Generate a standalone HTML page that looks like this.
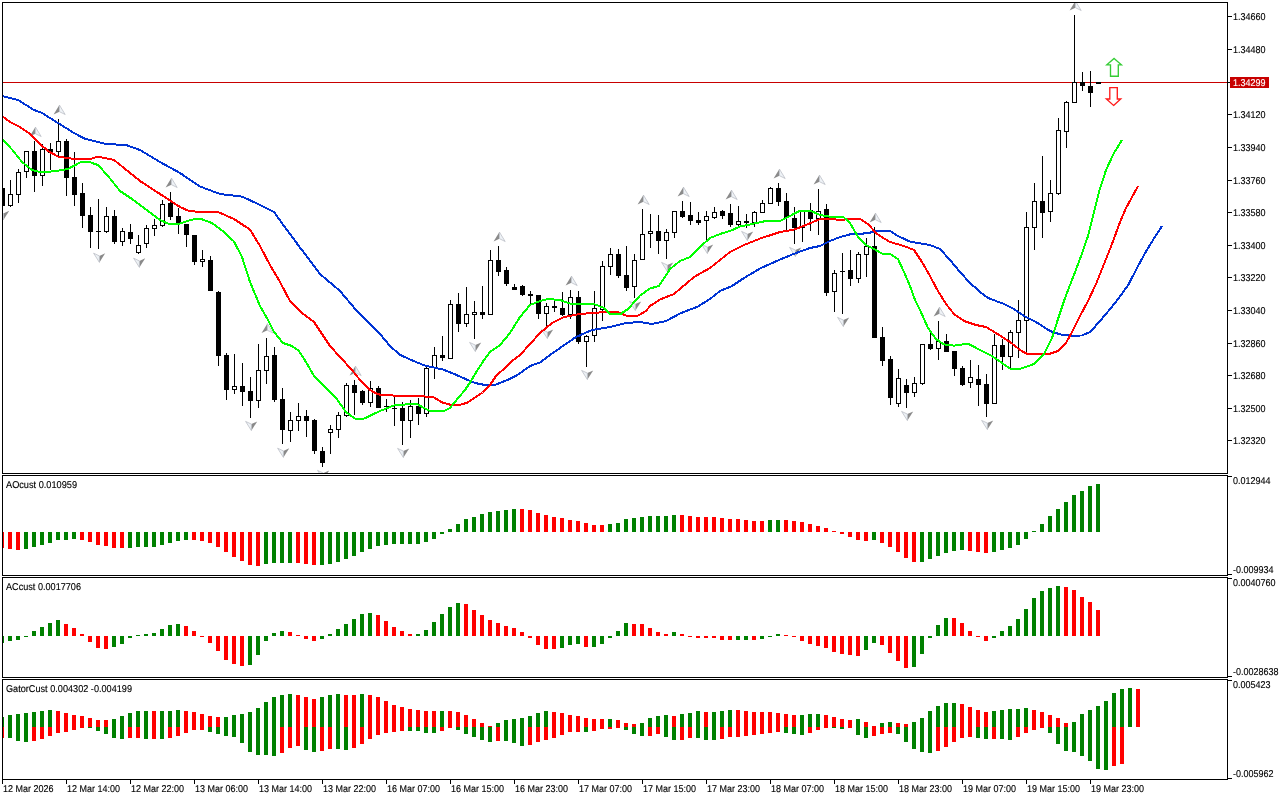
<!DOCTYPE html>
<html lang="en"><head><meta charset="utf-8"><title>Chart</title>
<style>html,body{margin:0;padding:0;background:#fff;overflow:hidden}svg{display:block}text{font-family:"Liberation Sans",sans-serif;font-size:9px;fill:#000;stroke:#000;stroke-width:0.12px;text-rendering:geometricPrecision}</style>
</head><body>
<svg width="1280" height="800" viewBox="0 0 1280 800">
<rect width="1280" height="800" fill="#fff"/>
<defs><clipPath id="cm"><rect x="3" y="3" width="1224" height="470"/></clipPath><clipPath id="c1"><rect x="3" y="476" width="1224" height="99"/></clipPath><clipPath id="c2"><rect x="3" y="578" width="1224" height="99"/></clipPath><clipPath id="c3"><rect x="3" y="680" width="1224" height="99"/></clipPath></defs>
<g clip-path="url(#cm)" shape-rendering="crispEdges">
<rect x="3" y="82" width="1224" height="1" fill="#c80000"/>
<rect x="2" y="185" width="1" height="22" fill="#000"/>
<rect x="0" y="188" width="5" height="18" fill="#000"/>
<rect x="10" y="180" width="1" height="27" fill="#000"/>
<rect x="8" y="194" width="5" height="12" fill="#000"/>
<rect x="9" y="195" width="3" height="10" fill="#fff"/>
<rect x="18" y="169" width="1" height="34" fill="#000"/>
<rect x="16" y="172" width="5" height="23" fill="#000"/>
<rect x="17" y="173" width="3" height="21" fill="#fff"/>
<rect x="26" y="151" width="1" height="27" fill="#000"/>
<rect x="24" y="151" width="5" height="21" fill="#000"/>
<rect x="25" y="152" width="3" height="19" fill="#fff"/>
<rect x="34" y="141" width="1" height="51" fill="#000"/>
<rect x="32" y="151" width="5" height="25" fill="#000"/>
<rect x="42" y="144" width="1" height="42" fill="#000"/>
<rect x="40" y="149" width="5" height="27" fill="#000"/>
<rect x="41" y="150" width="3" height="25" fill="#fff"/>
<rect x="50" y="143" width="1" height="27" fill="#000"/>
<rect x="48" y="149" width="5" height="4" fill="#000"/>
<rect x="58" y="119" width="1" height="37" fill="#000"/>
<rect x="56" y="141" width="5" height="11" fill="#000"/>
<rect x="57" y="142" width="3" height="9" fill="#fff"/>
<rect x="66" y="139" width="1" height="57" fill="#000"/>
<rect x="64" y="141" width="5" height="37" fill="#000"/>
<rect x="74" y="152" width="1" height="54" fill="#000"/>
<rect x="72" y="177" width="5" height="18" fill="#000"/>
<rect x="82" y="183" width="1" height="45" fill="#000"/>
<rect x="80" y="193" width="5" height="23" fill="#000"/>
<rect x="90" y="207" width="1" height="41" fill="#000"/>
<rect x="88" y="215" width="5" height="17" fill="#000"/>
<rect x="98" y="199" width="1" height="50" fill="#000"/>
<rect x="96" y="231" width="5" height="1" fill="#000"/>
<rect x="106" y="207" width="1" height="26" fill="#000"/>
<rect x="104" y="216" width="5" height="16" fill="#000"/>
<rect x="105" y="217" width="3" height="14" fill="#fff"/>
<rect x="114" y="210" width="1" height="34" fill="#000"/>
<rect x="112" y="216" width="5" height="26" fill="#000"/>
<rect x="122" y="228" width="1" height="18" fill="#000"/>
<rect x="120" y="231" width="5" height="11" fill="#000"/>
<rect x="121" y="232" width="3" height="9" fill="#fff"/>
<rect x="130" y="224" width="1" height="20" fill="#000"/>
<rect x="128" y="232" width="5" height="7" fill="#000"/>
<rect x="138" y="235" width="1" height="19" fill="#000"/>
<rect x="136" y="245" width="5" height="8" fill="#000"/>
<rect x="137" y="246" width="3" height="6" fill="#fff"/>
<rect x="146" y="225" width="1" height="23" fill="#000"/>
<rect x="144" y="228" width="5" height="16" fill="#000"/>
<rect x="145" y="229" width="3" height="14" fill="#fff"/>
<rect x="154" y="219" width="1" height="17" fill="#000"/>
<rect x="152" y="225" width="5" height="4" fill="#000"/>
<rect x="153" y="226" width="3" height="2" fill="#fff"/>
<rect x="162" y="200" width="1" height="27" fill="#000"/>
<rect x="160" y="204" width="5" height="22" fill="#000"/>
<rect x="161" y="205" width="3" height="20" fill="#fff"/>
<rect x="170" y="192" width="1" height="28" fill="#000"/>
<rect x="168" y="203" width="5" height="14" fill="#000"/>
<rect x="178" y="208" width="1" height="26" fill="#000"/>
<rect x="176" y="216" width="5" height="8" fill="#000"/>
<rect x="186" y="224" width="1" height="23" fill="#000"/>
<rect x="184" y="224" width="5" height="11" fill="#000"/>
<rect x="194" y="235" width="1" height="30" fill="#000"/>
<rect x="192" y="235" width="5" height="27" fill="#000"/>
<rect x="202" y="250" width="1" height="17" fill="#000"/>
<rect x="200" y="259" width="5" height="3" fill="#000"/>
<rect x="201" y="260" width="3" height="1" fill="#fff"/>
<rect x="210" y="256" width="1" height="35" fill="#000"/>
<rect x="208" y="260" width="5" height="31" fill="#000"/>
<rect x="218" y="291" width="1" height="75" fill="#000"/>
<rect x="216" y="292" width="5" height="64" fill="#000"/>
<rect x="226" y="353" width="1" height="47" fill="#000"/>
<rect x="224" y="355" width="5" height="35" fill="#000"/>
<rect x="234" y="354" width="1" height="40" fill="#000"/>
<rect x="232" y="386" width="5" height="4" fill="#000"/>
<rect x="233" y="387" width="3" height="2" fill="#fff"/>
<rect x="242" y="363" width="1" height="43" fill="#000"/>
<rect x="240" y="386" width="5" height="6" fill="#000"/>
<rect x="250" y="377" width="1" height="41" fill="#000"/>
<rect x="248" y="391" width="5" height="10" fill="#000"/>
<rect x="258" y="344" width="1" height="64" fill="#000"/>
<rect x="256" y="370" width="5" height="31" fill="#000"/>
<rect x="257" y="371" width="3" height="29" fill="#fff"/>
<rect x="266" y="338" width="1" height="46" fill="#000"/>
<rect x="264" y="356" width="5" height="15" fill="#000"/>
<rect x="265" y="357" width="3" height="13" fill="#fff"/>
<rect x="274" y="347" width="1" height="55" fill="#000"/>
<rect x="272" y="355" width="5" height="45" fill="#000"/>
<rect x="282" y="388" width="1" height="56" fill="#000"/>
<rect x="280" y="399" width="5" height="31" fill="#000"/>
<rect x="290" y="412" width="1" height="30" fill="#000"/>
<rect x="288" y="420" width="5" height="11" fill="#000"/>
<rect x="289" y="421" width="3" height="9" fill="#fff"/>
<rect x="298" y="403" width="1" height="28" fill="#000"/>
<rect x="296" y="416" width="5" height="5" fill="#000"/>
<rect x="297" y="417" width="3" height="3" fill="#fff"/>
<rect x="306" y="410" width="1" height="27" fill="#000"/>
<rect x="304" y="416" width="5" height="5" fill="#000"/>
<rect x="314" y="419" width="1" height="35" fill="#000"/>
<rect x="312" y="420" width="5" height="31" fill="#000"/>
<rect x="322" y="447" width="1" height="20" fill="#000"/>
<rect x="320" y="451" width="5" height="12" fill="#000"/>
<rect x="330" y="425" width="1" height="29" fill="#000"/>
<rect x="328" y="429" width="5" height="4" fill="#000"/>
<rect x="329" y="430" width="3" height="2" fill="#fff"/>
<rect x="338" y="412" width="1" height="26" fill="#000"/>
<rect x="336" y="415" width="5" height="15" fill="#000"/>
<rect x="337" y="416" width="3" height="13" fill="#fff"/>
<rect x="346" y="383" width="1" height="34" fill="#000"/>
<rect x="344" y="385" width="5" height="31" fill="#000"/>
<rect x="345" y="386" width="3" height="29" fill="#fff"/>
<rect x="354" y="380" width="1" height="35" fill="#000"/>
<rect x="352" y="385" width="5" height="8" fill="#000"/>
<rect x="362" y="390" width="1" height="15" fill="#000"/>
<rect x="360" y="391" width="5" height="12" fill="#000"/>
<rect x="370" y="381" width="1" height="26" fill="#000"/>
<rect x="368" y="388" width="5" height="15" fill="#000"/>
<rect x="369" y="389" width="3" height="13" fill="#fff"/>
<rect x="378" y="386" width="1" height="22" fill="#000"/>
<rect x="376" y="388" width="5" height="20" fill="#000"/>
<rect x="386" y="399" width="1" height="13" fill="#000"/>
<rect x="384" y="406" width="5" height="1" fill="#000"/>
<rect x="394" y="397" width="1" height="29" fill="#000"/>
<rect x="392" y="408" width="5" height="1" fill="#000"/>
<rect x="402" y="402" width="1" height="43" fill="#000"/>
<rect x="400" y="408" width="5" height="13" fill="#000"/>
<rect x="410" y="400" width="1" height="38" fill="#000"/>
<rect x="408" y="406" width="5" height="15" fill="#000"/>
<rect x="409" y="407" width="3" height="13" fill="#fff"/>
<rect x="418" y="398" width="1" height="27" fill="#000"/>
<rect x="416" y="406" width="5" height="8" fill="#000"/>
<rect x="426" y="366" width="1" height="51" fill="#000"/>
<rect x="424" y="368" width="5" height="46" fill="#000"/>
<rect x="425" y="369" width="3" height="44" fill="#fff"/>
<rect x="434" y="347" width="1" height="32" fill="#000"/>
<rect x="432" y="355" width="5" height="13" fill="#000"/>
<rect x="433" y="356" width="3" height="11" fill="#fff"/>
<rect x="442" y="336" width="1" height="25" fill="#000"/>
<rect x="440" y="355" width="5" height="3" fill="#000"/>
<rect x="450" y="300" width="1" height="58" fill="#000"/>
<rect x="448" y="304" width="5" height="55" fill="#000"/>
<rect x="449" y="305" width="3" height="53" fill="#fff"/>
<rect x="458" y="293" width="1" height="39" fill="#000"/>
<rect x="456" y="304" width="5" height="20" fill="#000"/>
<rect x="466" y="287" width="1" height="40" fill="#000"/>
<rect x="464" y="314" width="5" height="10" fill="#000"/>
<rect x="465" y="315" width="3" height="8" fill="#fff"/>
<rect x="474" y="301" width="1" height="38" fill="#000"/>
<rect x="472" y="312" width="5" height="3" fill="#000"/>
<rect x="473" y="313" width="3" height="1" fill="#fff"/>
<rect x="482" y="286" width="1" height="33" fill="#000"/>
<rect x="480" y="312" width="5" height="3" fill="#000"/>
<rect x="490" y="250" width="1" height="65" fill="#000"/>
<rect x="488" y="260" width="5" height="55" fill="#000"/>
<rect x="489" y="261" width="3" height="53" fill="#fff"/>
<rect x="498" y="246" width="1" height="30" fill="#000"/>
<rect x="496" y="260" width="5" height="12" fill="#000"/>
<rect x="506" y="267" width="1" height="19" fill="#000"/>
<rect x="504" y="270" width="5" height="14" fill="#000"/>
<rect x="514" y="284" width="1" height="6" fill="#000"/>
<rect x="512" y="287" width="5" height="3" fill="#000"/>
<rect x="522" y="285" width="1" height="11" fill="#000"/>
<rect x="520" y="286" width="5" height="9" fill="#000"/>
<rect x="530" y="291" width="1" height="13" fill="#000"/>
<rect x="528" y="294" width="5" height="2" fill="#000"/>
<rect x="538" y="295" width="1" height="24" fill="#000"/>
<rect x="536" y="295" width="5" height="19" fill="#000"/>
<rect x="546" y="303" width="1" height="23" fill="#000"/>
<rect x="544" y="306" width="5" height="8" fill="#000"/>
<rect x="545" y="307" width="3" height="6" fill="#fff"/>
<rect x="554" y="300" width="1" height="12" fill="#000"/>
<rect x="552" y="306" width="5" height="2" fill="#000"/>
<rect x="562" y="292" width="1" height="24" fill="#000"/>
<rect x="560" y="308" width="5" height="7" fill="#000"/>
<rect x="570" y="290" width="1" height="29" fill="#000"/>
<rect x="568" y="297" width="5" height="18" fill="#000"/>
<rect x="569" y="298" width="3" height="16" fill="#fff"/>
<rect x="578" y="291" width="1" height="53" fill="#000"/>
<rect x="576" y="297" width="5" height="45" fill="#000"/>
<rect x="586" y="335" width="1" height="32" fill="#000"/>
<rect x="584" y="336" width="5" height="6" fill="#000"/>
<rect x="585" y="337" width="3" height="4" fill="#fff"/>
<rect x="594" y="291" width="1" height="51" fill="#000"/>
<rect x="592" y="308" width="5" height="28" fill="#000"/>
<rect x="593" y="309" width="3" height="26" fill="#fff"/>
<rect x="602" y="261" width="1" height="60" fill="#000"/>
<rect x="600" y="266" width="5" height="44" fill="#000"/>
<rect x="601" y="267" width="3" height="42" fill="#fff"/>
<rect x="610" y="248" width="1" height="27" fill="#000"/>
<rect x="608" y="254" width="5" height="13" fill="#000"/>
<rect x="609" y="255" width="3" height="11" fill="#fff"/>
<rect x="618" y="249" width="1" height="29" fill="#000"/>
<rect x="616" y="254" width="5" height="22" fill="#000"/>
<rect x="626" y="246" width="1" height="45" fill="#000"/>
<rect x="624" y="275" width="5" height="13" fill="#000"/>
<rect x="634" y="254" width="1" height="44" fill="#000"/>
<rect x="632" y="260" width="5" height="27" fill="#000"/>
<rect x="633" y="261" width="3" height="25" fill="#fff"/>
<rect x="642" y="209" width="1" height="50" fill="#000"/>
<rect x="640" y="234" width="5" height="26" fill="#000"/>
<rect x="641" y="235" width="3" height="24" fill="#fff"/>
<rect x="650" y="214" width="1" height="34" fill="#000"/>
<rect x="648" y="231" width="5" height="3" fill="#000"/>
<rect x="649" y="232" width="3" height="1" fill="#fff"/>
<rect x="658" y="215" width="1" height="39" fill="#000"/>
<rect x="656" y="231" width="5" height="10" fill="#000"/>
<rect x="666" y="229" width="1" height="30" fill="#000"/>
<rect x="664" y="232" width="5" height="9" fill="#000"/>
<rect x="665" y="233" width="3" height="7" fill="#fff"/>
<rect x="674" y="211" width="1" height="27" fill="#000"/>
<rect x="672" y="211" width="5" height="22" fill="#000"/>
<rect x="673" y="212" width="3" height="20" fill="#fff"/>
<rect x="682" y="201" width="1" height="17" fill="#000"/>
<rect x="680" y="211" width="5" height="6" fill="#000"/>
<rect x="690" y="202" width="1" height="23" fill="#000"/>
<rect x="688" y="215" width="5" height="6" fill="#000"/>
<rect x="698" y="212" width="1" height="13" fill="#000"/>
<rect x="696" y="220" width="5" height="3" fill="#000"/>
<rect x="706" y="211" width="1" height="30" fill="#000"/>
<rect x="704" y="216" width="5" height="5" fill="#000"/>
<rect x="705" y="217" width="3" height="3" fill="#fff"/>
<rect x="714" y="207" width="1" height="12" fill="#000"/>
<rect x="712" y="212" width="5" height="6" fill="#000"/>
<rect x="713" y="213" width="3" height="4" fill="#fff"/>
<rect x="722" y="210" width="1" height="9" fill="#000"/>
<rect x="720" y="211" width="5" height="5" fill="#000"/>
<rect x="730" y="204" width="1" height="23" fill="#000"/>
<rect x="728" y="213" width="5" height="12" fill="#000"/>
<rect x="738" y="206" width="1" height="20" fill="#000"/>
<rect x="736" y="221" width="5" height="4" fill="#000"/>
<rect x="737" y="222" width="3" height="2" fill="#fff"/>
<rect x="746" y="214" width="1" height="14" fill="#000"/>
<rect x="744" y="221" width="5" height="2" fill="#000"/>
<rect x="754" y="211" width="1" height="16" fill="#000"/>
<rect x="752" y="212" width="5" height="11" fill="#000"/>
<rect x="753" y="213" width="3" height="9" fill="#fff"/>
<rect x="762" y="200" width="1" height="12" fill="#000"/>
<rect x="760" y="203" width="5" height="10" fill="#000"/>
<rect x="761" y="204" width="3" height="8" fill="#fff"/>
<rect x="770" y="187" width="1" height="16" fill="#000"/>
<rect x="768" y="188" width="5" height="16" fill="#000"/>
<rect x="769" y="189" width="3" height="14" fill="#fff"/>
<rect x="778" y="183" width="1" height="23" fill="#000"/>
<rect x="776" y="188" width="5" height="14" fill="#000"/>
<rect x="786" y="193" width="1" height="37" fill="#000"/>
<rect x="784" y="201" width="5" height="17" fill="#000"/>
<rect x="794" y="207" width="1" height="37" fill="#000"/>
<rect x="792" y="218" width="5" height="10" fill="#000"/>
<rect x="802" y="211" width="1" height="31" fill="#000"/>
<rect x="800" y="211" width="5" height="17" fill="#000"/>
<rect x="801" y="212" width="3" height="15" fill="#fff"/>
<rect x="810" y="203" width="1" height="28" fill="#000"/>
<rect x="808" y="210" width="5" height="9" fill="#000"/>
<rect x="818" y="189" width="1" height="46" fill="#000"/>
<rect x="816" y="211" width="5" height="8" fill="#000"/>
<rect x="817" y="212" width="3" height="6" fill="#fff"/>
<rect x="826" y="204" width="1" height="92" fill="#000"/>
<rect x="824" y="209" width="5" height="84" fill="#000"/>
<rect x="834" y="270" width="1" height="42" fill="#000"/>
<rect x="832" y="273" width="5" height="19" fill="#000"/>
<rect x="833" y="274" width="3" height="17" fill="#fff"/>
<rect x="842" y="253" width="1" height="61" fill="#000"/>
<rect x="840" y="271" width="5" height="1" fill="#000"/>
<rect x="850" y="250" width="1" height="36" fill="#000"/>
<rect x="848" y="270" width="5" height="9" fill="#000"/>
<rect x="858" y="252" width="1" height="31" fill="#000"/>
<rect x="856" y="254" width="5" height="25" fill="#000"/>
<rect x="857" y="255" width="3" height="23" fill="#fff"/>
<rect x="866" y="238" width="1" height="39" fill="#000"/>
<rect x="864" y="246" width="5" height="9" fill="#000"/>
<rect x="865" y="247" width="3" height="7" fill="#fff"/>
<rect x="874" y="227" width="1" height="111" fill="#000"/>
<rect x="872" y="246" width="5" height="92" fill="#000"/>
<rect x="882" y="327" width="1" height="39" fill="#000"/>
<rect x="880" y="337" width="5" height="24" fill="#000"/>
<rect x="890" y="356" width="1" height="49" fill="#000"/>
<rect x="888" y="359" width="5" height="39" fill="#000"/>
<rect x="898" y="369" width="1" height="38" fill="#000"/>
<rect x="896" y="378" width="5" height="26" fill="#000"/>
<rect x="897" y="379" width="3" height="24" fill="#fff"/>
<rect x="906" y="379" width="1" height="29" fill="#000"/>
<rect x="904" y="385" width="5" height="8" fill="#000"/>
<rect x="914" y="377" width="1" height="20" fill="#000"/>
<rect x="912" y="383" width="5" height="10" fill="#000"/>
<rect x="913" y="384" width="3" height="8" fill="#fff"/>
<rect x="922" y="344" width="1" height="41" fill="#000"/>
<rect x="920" y="344" width="5" height="40" fill="#000"/>
<rect x="921" y="345" width="3" height="38" fill="#fff"/>
<rect x="930" y="333" width="1" height="17" fill="#000"/>
<rect x="928" y="344" width="5" height="5" fill="#000"/>
<rect x="938" y="321" width="1" height="39" fill="#000"/>
<rect x="936" y="341" width="5" height="8" fill="#000"/>
<rect x="937" y="342" width="3" height="6" fill="#fff"/>
<rect x="946" y="334" width="1" height="18" fill="#000"/>
<rect x="944" y="341" width="5" height="11" fill="#000"/>
<rect x="954" y="351" width="1" height="25" fill="#000"/>
<rect x="952" y="351" width="5" height="18" fill="#000"/>
<rect x="962" y="366" width="1" height="20" fill="#000"/>
<rect x="960" y="368" width="5" height="17" fill="#000"/>
<rect x="970" y="360" width="1" height="28" fill="#000"/>
<rect x="968" y="377" width="5" height="6" fill="#000"/>
<rect x="969" y="378" width="3" height="4" fill="#fff"/>
<rect x="978" y="365" width="1" height="41" fill="#000"/>
<rect x="976" y="379" width="5" height="6" fill="#000"/>
<rect x="986" y="374" width="1" height="43" fill="#000"/>
<rect x="984" y="384" width="5" height="20" fill="#000"/>
<rect x="994" y="334" width="1" height="70" fill="#000"/>
<rect x="992" y="345" width="5" height="59" fill="#000"/>
<rect x="993" y="346" width="3" height="57" fill="#fff"/>
<rect x="1002" y="339" width="1" height="31" fill="#000"/>
<rect x="1000" y="345" width="5" height="12" fill="#000"/>
<rect x="1010" y="330" width="1" height="38" fill="#000"/>
<rect x="1008" y="332" width="5" height="25" fill="#000"/>
<rect x="1009" y="333" width="3" height="23" fill="#fff"/>
<rect x="1018" y="300" width="1" height="58" fill="#000"/>
<rect x="1016" y="320" width="5" height="13" fill="#000"/>
<rect x="1017" y="321" width="3" height="11" fill="#fff"/>
<rect x="1026" y="212" width="1" height="140" fill="#000"/>
<rect x="1024" y="227" width="5" height="94" fill="#000"/>
<rect x="1025" y="228" width="3" height="92" fill="#fff"/>
<rect x="1034" y="183" width="1" height="67" fill="#000"/>
<rect x="1032" y="201" width="5" height="27" fill="#000"/>
<rect x="1033" y="202" width="3" height="25" fill="#fff"/>
<rect x="1042" y="156" width="1" height="82" fill="#000"/>
<rect x="1040" y="201" width="5" height="12" fill="#000"/>
<rect x="1050" y="180" width="1" height="42" fill="#000"/>
<rect x="1048" y="193" width="5" height="19" fill="#000"/>
<rect x="1049" y="194" width="3" height="17" fill="#fff"/>
<rect x="1058" y="118" width="1" height="77" fill="#000"/>
<rect x="1056" y="130" width="5" height="64" fill="#000"/>
<rect x="1057" y="131" width="3" height="62" fill="#fff"/>
<rect x="1066" y="101" width="1" height="47" fill="#000"/>
<rect x="1064" y="102" width="5" height="30" fill="#000"/>
<rect x="1065" y="103" width="3" height="28" fill="#fff"/>
<rect x="1074" y="15" width="1" height="87" fill="#000"/>
<rect x="1072" y="82" width="5" height="21" fill="#000"/>
<rect x="1073" y="83" width="3" height="19" fill="#fff"/>
<rect x="1082" y="72" width="1" height="19" fill="#000"/>
<rect x="1080" y="82" width="5" height="4" fill="#000"/>
<rect x="1090" y="71" width="1" height="36" fill="#000"/>
<rect x="1088" y="86" width="5" height="7" fill="#000"/>
<rect x="1098" y="82" width="1" height="1" fill="#000"/>
<rect x="1096" y="82" width="5" height="2" fill="#000"/>
</g>
<g clip-path="url(#cm)">
<path d="M35.4,127.0 L29.6,136.5 L35.4,133.7 Z" fill="#8a8a8a"/>
<path d="M35.4,127.0 L41.2,136.5 L35.4,133.7 Z" fill="#eef2f6" stroke="#b4b8c0" stroke-width="0.7"/>
<path d="M59.4,105.0 L53.6,114.5 L59.4,111.7 Z" fill="#8a8a8a"/>
<path d="M59.4,105.0 L65.2,114.5 L59.4,111.7 Z" fill="#eef2f6" stroke="#b4b8c0" stroke-width="0.7"/>
<path d="M171.4,178.0 L165.6,187.5 L171.4,184.7 Z" fill="#8a8a8a"/>
<path d="M171.4,178.0 L177.2,187.5 L171.4,184.7 Z" fill="#eef2f6" stroke="#b4b8c0" stroke-width="0.7"/>
<path d="M267.4,323.6 L261.6,333.1 L267.4,330.3 Z" fill="#8a8a8a"/>
<path d="M267.4,323.6 L273.2,333.1 L267.4,330.3 Z" fill="#eef2f6" stroke="#b4b8c0" stroke-width="0.7"/>
<path d="M355.4,366.0 L349.6,375.5 L355.4,372.7 Z" fill="#8a8a8a"/>
<path d="M355.4,366.0 L361.2,375.5 L355.4,372.7 Z" fill="#eef2f6" stroke="#b4b8c0" stroke-width="0.7"/>
<path d="M499.4,232.0 L493.6,241.5 L499.4,238.7 Z" fill="#8a8a8a"/>
<path d="M499.4,232.0 L505.2,241.5 L499.4,238.7 Z" fill="#eef2f6" stroke="#b4b8c0" stroke-width="0.7"/>
<path d="M571.4,276.0 L565.6,285.5 L571.4,282.7 Z" fill="#8a8a8a"/>
<path d="M571.4,276.0 L577.2,285.5 L571.4,282.7 Z" fill="#eef2f6" stroke="#b4b8c0" stroke-width="0.7"/>
<path d="M643.4,195.0 L637.6,204.5 L643.4,201.7 Z" fill="#8a8a8a"/>
<path d="M643.4,195.0 L649.2,204.5 L643.4,201.7 Z" fill="#eef2f6" stroke="#b4b8c0" stroke-width="0.7"/>
<path d="M683.4,187.0 L677.6,196.5 L683.4,193.7 Z" fill="#8a8a8a"/>
<path d="M683.4,187.0 L689.2,196.5 L683.4,193.7 Z" fill="#eef2f6" stroke="#b4b8c0" stroke-width="0.7"/>
<path d="M731.4,190.0 L725.6,199.5 L731.4,196.7 Z" fill="#8a8a8a"/>
<path d="M731.4,190.0 L737.2,199.5 L731.4,196.7 Z" fill="#eef2f6" stroke="#b4b8c0" stroke-width="0.7"/>
<path d="M779.4,169.0 L773.6,178.5 L779.4,175.7 Z" fill="#8a8a8a"/>
<path d="M779.4,169.0 L785.2,178.5 L779.4,175.7 Z" fill="#eef2f6" stroke="#b4b8c0" stroke-width="0.7"/>
<path d="M819.4,175.0 L813.6,184.5 L819.4,181.7 Z" fill="#8a8a8a"/>
<path d="M819.4,175.0 L825.2,184.5 L819.4,181.7 Z" fill="#eef2f6" stroke="#b4b8c0" stroke-width="0.7"/>
<path d="M875.4,213.0 L869.6,222.5 L875.4,219.7 Z" fill="#8a8a8a"/>
<path d="M875.4,213.0 L881.2,222.5 L875.4,219.7 Z" fill="#eef2f6" stroke="#b4b8c0" stroke-width="0.7"/>
<path d="M939.4,307.0 L933.6,316.5 L939.4,313.7 Z" fill="#8a8a8a"/>
<path d="M939.4,307.0 L945.2,316.5 L939.4,313.7 Z" fill="#eef2f6" stroke="#b4b8c0" stroke-width="0.7"/>
<path d="M1075.4,1.0 L1069.6,10.5 L1075.4,7.7 Z" fill="#8a8a8a"/>
<path d="M1075.4,1.0 L1081.2,10.5 L1075.4,7.7 Z" fill="#eef2f6" stroke="#b4b8c0" stroke-width="0.7"/>
<path d="M3.4,220.0 L9.2,210.8 L3.4,213.5 Z" fill="#8a8a8a"/>
<path d="M3.4,220.0 L-2.4,210.8 L3.4,213.5 Z" fill="#eef2f6" stroke="#b4b8c0" stroke-width="0.7"/>
<path d="M99.4,262.4 L105.2,253.2 L99.4,255.9 Z" fill="#8a8a8a"/>
<path d="M99.4,262.4 L93.6,253.2 L99.4,255.9 Z" fill="#eef2f6" stroke="#b4b8c0" stroke-width="0.7"/>
<path d="M139.4,267.4 L145.2,258.2 L139.4,260.9 Z" fill="#8a8a8a"/>
<path d="M139.4,267.4 L133.6,258.2 L139.4,260.9 Z" fill="#eef2f6" stroke="#b4b8c0" stroke-width="0.7"/>
<path d="M251.4,430.6 L257.2,421.4 L251.4,424.1 Z" fill="#8a8a8a"/>
<path d="M251.4,430.6 L245.6,421.4 L251.4,424.1 Z" fill="#eef2f6" stroke="#b4b8c0" stroke-width="0.7"/>
<path d="M283.4,457.4 L289.2,448.2 L283.4,450.9 Z" fill="#8a8a8a"/>
<path d="M283.4,457.4 L277.6,448.2 L283.4,450.9 Z" fill="#eef2f6" stroke="#b4b8c0" stroke-width="0.7"/>
<path d="M323.4,479.6 L329.2,470.4 L323.4,473.1 Z" fill="#8a8a8a"/>
<path d="M323.4,479.6 L317.6,470.4 L323.4,473.1 Z" fill="#eef2f6" stroke="#b4b8c0" stroke-width="0.7"/>
<path d="M403.4,457.6 L409.2,448.4 L403.4,451.1 Z" fill="#8a8a8a"/>
<path d="M403.4,457.6 L397.6,448.4 L403.4,451.1 Z" fill="#eef2f6" stroke="#b4b8c0" stroke-width="0.7"/>
<path d="M475.4,351.6 L481.2,342.4 L475.4,345.1 Z" fill="#8a8a8a"/>
<path d="M475.4,351.6 L469.6,342.4 L475.4,345.1 Z" fill="#eef2f6" stroke="#b4b8c0" stroke-width="0.7"/>
<path d="M547.4,338.6 L553.2,329.4 L547.4,332.1 Z" fill="#8a8a8a"/>
<path d="M547.4,338.6 L541.6,329.4 L547.4,332.1 Z" fill="#eef2f6" stroke="#b4b8c0" stroke-width="0.7"/>
<path d="M587.4,379.6 L593.2,370.4 L587.4,373.1 Z" fill="#8a8a8a"/>
<path d="M587.4,379.6 L581.6,370.4 L587.4,373.1 Z" fill="#eef2f6" stroke="#b4b8c0" stroke-width="0.7"/>
<path d="M635.4,310.6 L641.2,301.4 L635.4,304.1 Z" fill="#8a8a8a"/>
<path d="M635.4,310.6 L629.6,301.4 L635.4,304.1 Z" fill="#eef2f6" stroke="#b4b8c0" stroke-width="0.7"/>
<path d="M667.4,271.6 L673.2,262.4 L667.4,265.1 Z" fill="#8a8a8a"/>
<path d="M667.4,271.6 L661.6,262.4 L667.4,265.1 Z" fill="#eef2f6" stroke="#b4b8c0" stroke-width="0.7"/>
<path d="M707.4,253.6 L713.2,244.4 L707.4,247.1 Z" fill="#8a8a8a"/>
<path d="M707.4,253.6 L701.6,244.4 L707.4,247.1 Z" fill="#eef2f6" stroke="#b4b8c0" stroke-width="0.7"/>
<path d="M747.4,240.6 L753.2,231.4 L747.4,234.1 Z" fill="#8a8a8a"/>
<path d="M747.4,240.6 L741.6,231.4 L747.4,234.1 Z" fill="#eef2f6" stroke="#b4b8c0" stroke-width="0.7"/>
<path d="M795.4,256.6 L801.2,247.4 L795.4,250.1 Z" fill="#8a8a8a"/>
<path d="M795.4,256.6 L789.6,247.4 L795.4,250.1 Z" fill="#eef2f6" stroke="#b4b8c0" stroke-width="0.7"/>
<path d="M843.4,326.6 L849.2,317.4 L843.4,320.1 Z" fill="#8a8a8a"/>
<path d="M843.4,326.6 L837.6,317.4 L843.4,320.1 Z" fill="#eef2f6" stroke="#b4b8c0" stroke-width="0.7"/>
<path d="M907.4,420.6 L913.2,411.4 L907.4,414.1 Z" fill="#8a8a8a"/>
<path d="M907.4,420.6 L901.6,411.4 L907.4,414.1 Z" fill="#eef2f6" stroke="#b4b8c0" stroke-width="0.7"/>
<path d="M987.4,429.6 L993.2,420.4 L987.4,423.1 Z" fill="#8a8a8a"/>
<path d="M987.4,429.6 L981.6,420.4 L987.4,423.1 Z" fill="#eef2f6" stroke="#b4b8c0" stroke-width="0.7"/>
</g>
<g clip-path="url(#cm)" shape-rendering="crispEdges">
<polyline points="2.0,96.0 18.0,100.0 34.0,110.0 42.0,113.0 58.0,123.0 74.0,133.0 84.0,138.4 106.0,144.0 126.0,145.0 140.0,150.0 160.0,162.0 180.0,173.0 200.0,186.5 220.0,194.0 242.0,196.6 256.0,203.0 274.0,212.0 284.0,226.0 300.0,247.5 320.0,274.0 340.0,291.0 356.0,310.0 366.0,320.0 380.0,334.0 390.0,346.0 400.0,354.8 412.5,360.6 425.0,365.6 442.5,369.4 453.8,373.8 465.0,378.8 475.0,383.0 485.0,385.0 495.0,384.8 507.5,380.0 517.5,375.0 530.0,366.0 540.0,362.5 550.0,355.0 560.0,348.0 576.0,337.0 592.0,330.0 610.0,327.0 626.0,323.0 640.0,322.0 652.0,324.0 666.0,321.0 680.0,313.5 698.0,306.5 710.0,299.0 720.0,291.0 732.0,286.0 744.0,278.0 760.0,268.5 780.0,259.5 796.0,253.0 810.0,248.0 820.0,246.0 830.0,241.0 840.0,237.0 850.0,234.4 860.0,234.0 870.0,232.6 878.0,231.0 890.0,231.0 898.0,236.0 910.0,241.6 930.0,245.0 940.0,249.0 950.0,260.0 960.0,272.0 970.0,283.0 982.0,293.5 988.0,298.0 1004.0,304.0 1014.0,309.0 1024.0,316.0 1036.0,322.0 1050.0,331.0 1060.0,334.4 1070.0,335.6 1082.0,335.5 1090.0,332.0 1095.0,326.6 1106.0,314.0 1117.0,300.5 1128.0,285.4 1136.0,270.0 1144.5,254.0 1153.0,240.0 1162.0,226.0" fill="none" stroke="#0034d4" stroke-width="2" stroke-linejoin="round"/>
<polyline points="2.0,116.0 10.0,122.0 20.0,127.0 30.0,134.0 40.0,144.0 48.0,151.0 58.0,156.6 72.0,158.6 92.0,158.6 98.0,156.6 114.0,160.0 124.0,168.0 140.0,181.0 160.0,194.0 180.0,207.0 190.0,211.4 218.0,212.0 234.0,219.0 250.0,229.6 260.0,246.0 270.0,265.0 280.0,282.0 290.0,301.0 302.0,313.0 314.0,322.0 320.0,331.0 330.0,346.0 340.0,357.0 352.0,370.0 360.0,380.0 370.0,390.0 378.0,394.4 394.0,395.6 417.5,395.6 433.8,397.5 442.5,402.5 450.0,404.6 461.0,404.6 467.5,402.5 475.0,397.5 482.5,392.5 490.0,385.0 496.0,376.0 504.0,368.8 512.5,360.6 520.0,355.0 530.0,344.0 540.0,333.0 552.0,323.0 564.0,317.0 580.0,314.0 600.0,312.4 618.0,312.0 626.0,315.6 638.0,315.6 646.0,311.0 650.0,306.0 660.0,299.5 674.0,294.0 684.0,285.5 694.0,277.0 710.0,268.0 720.0,260.0 730.0,252.0 744.0,245.0 760.0,238.6 780.0,232.0 794.0,229.6 806.0,225.0 820.0,219.0 832.0,219.0 840.0,220.0 850.0,219.0 860.0,219.0 868.0,224.0 876.0,233.0 880.0,236.0 890.0,242.0 904.0,246.0 914.0,250.0 922.0,262.0 930.0,276.0 937.4,290.0 946.0,304.0 954.0,314.0 964.0,321.0 976.0,325.0 986.0,327.0 996.0,333.0 1010.0,342.0 1020.0,350.0 1028.0,354.4 1048.0,354.4 1058.0,351.0 1066.0,343.0 1072.0,332.0 1080.0,316.0 1088.0,301.0 1096.0,284.0 1104.0,264.0 1112.0,244.0 1120.0,222.0 1126.0,208.0 1131.0,199.0 1138.0,186.0" fill="none" stroke="#ff0000" stroke-width="2" stroke-linejoin="round"/>
<polyline points="2.0,139.0 12.0,149.5 22.0,162.0 32.0,170.0 42.0,172.4 56.0,171.0 68.0,169.0 81.0,162.0 88.0,161.6 98.0,165.0 108.0,176.0 120.0,191.0 132.0,199.0 144.0,208.0 160.0,220.0 168.0,223.6 180.0,223.6 192.0,219.6 200.0,218.6 212.0,223.0 224.0,232.0 234.0,241.5 242.0,257.0 250.0,282.0 260.0,306.0 268.0,320.0 274.0,332.0 283.0,343.0 292.0,346.0 299.0,351.0 306.0,362.0 314.0,376.0 326.0,388.0 336.0,398.0 346.0,412.0 355.0,418.6 364.0,418.6 380.0,411.0 394.0,405.4 408.0,404.3 417.5,404.2 424.0,408.0 430.0,411.0 444.0,411.0 450.0,408.0 456.0,400.6 465.0,390.0 471.0,381.0 477.5,370.0 484.0,360.0 490.0,352.0 500.0,345.0 510.0,333.0 520.0,317.0 530.0,305.0 540.0,301.0 548.0,299.0 560.0,300.0 570.0,303.6 594.0,304.0 604.0,308.0 610.0,314.4 620.0,314.4 628.0,309.0 640.0,295.5 650.0,288.5 659.0,286.0 670.0,269.0 680.0,261.0 690.0,257.0 700.0,247.0 710.0,238.0 720.0,234.0 730.0,231.0 740.0,226.6 752.0,224.0 764.0,221.4 780.0,221.0 790.0,216.0 800.0,210.6 810.0,210.6 820.0,215.0 830.0,216.6 843.0,216.6 850.0,223.0 858.0,237.0 866.0,245.0 874.0,249.0 882.0,253.5 890.0,254.0 898.0,259.0 904.0,272.0 910.0,286.0 915.0,300.0 920.0,310.0 928.0,328.0 936.0,339.0 944.0,344.4 954.0,345.6 968.0,343.6 980.0,350.0 992.0,356.0 1002.0,363.0 1010.0,368.6 1021.0,368.6 1034.0,364.0 1044.0,354.0 1052.0,338.0 1058.0,319.0 1064.0,301.0 1068.0,290.0 1072.0,280.0 1080.0,259.0 1088.0,236.0 1094.0,212.0 1099.0,192.0 1106.0,170.0 1114.0,153.0 1122.0,140.0" fill="none" stroke="#00ff00" stroke-width="2" stroke-linejoin="round"/>
</g>
<g clip-path="url(#cm)">
<path d="M1114.1,58.4 L1121.4,64.8 L1118.3,64.8 L1118.3,76.2 L1110.5,76.2 L1110.5,64.8 L1106.8,64.8 Z" fill="#fff" stroke="#34cc34" stroke-width="1.35"/>
<path d="M1113.6,105.4 L1120.7,99 L1117.3,99 L1117.3,87.6 L1109.8,87.6 L1109.8,99 L1106.4,99 Z" fill="#fff" stroke="#ff1a1a" stroke-width="1.35"/>
</g>
<g clip-path="url(#c1)" shape-rendering="crispEdges">
<rect x="0" y="532" width="4" height="16" fill="#ff0000"/>
<rect x="8" y="532" width="4" height="17" fill="#ff0000"/>
<rect x="16" y="532" width="4" height="18" fill="#ff0000"/>
<rect x="24" y="532" width="4" height="17" fill="#008000"/>
<rect x="32" y="532" width="4" height="15" fill="#008000"/>
<rect x="40" y="532" width="4" height="13" fill="#008000"/>
<rect x="48" y="532" width="4" height="11" fill="#008000"/>
<rect x="56" y="532" width="4" height="8" fill="#008000"/>
<rect x="64" y="532" width="4" height="8" fill="#008000"/>
<rect x="72" y="532" width="4" height="7" fill="#008000"/>
<rect x="80" y="532" width="4" height="8" fill="#ff0000"/>
<rect x="88" y="532" width="4" height="10" fill="#ff0000"/>
<rect x="96" y="532" width="4" height="13" fill="#ff0000"/>
<rect x="104" y="532" width="4" height="14" fill="#ff0000"/>
<rect x="112" y="532" width="4" height="16" fill="#ff0000"/>
<rect x="120" y="532" width="4" height="16" fill="#ff0000"/>
<rect x="128" y="532" width="4" height="16" fill="#008000"/>
<rect x="136" y="532" width="4" height="15" fill="#008000"/>
<rect x="144" y="532" width="4" height="15" fill="#008000"/>
<rect x="152" y="532" width="4" height="15" fill="#008000"/>
<rect x="160" y="532" width="4" height="13" fill="#008000"/>
<rect x="168" y="532" width="4" height="11" fill="#008000"/>
<rect x="176" y="532" width="4" height="9" fill="#008000"/>
<rect x="184" y="532" width="4" height="8" fill="#008000"/>
<rect x="192" y="532" width="4" height="8" fill="#ff0000"/>
<rect x="200" y="532" width="4" height="9" fill="#ff0000"/>
<rect x="208" y="532" width="4" height="11" fill="#ff0000"/>
<rect x="216" y="532" width="4" height="15" fill="#ff0000"/>
<rect x="224" y="532" width="4" height="20" fill="#ff0000"/>
<rect x="232" y="532" width="4" height="25" fill="#ff0000"/>
<rect x="240" y="532" width="4" height="29" fill="#ff0000"/>
<rect x="248" y="532" width="4" height="33" fill="#ff0000"/>
<rect x="256" y="532" width="4" height="34" fill="#ff0000"/>
<rect x="264" y="532" width="4" height="32" fill="#008000"/>
<rect x="272" y="532" width="4" height="31" fill="#008000"/>
<rect x="280" y="532" width="4" height="31" fill="#008000"/>
<rect x="288" y="532" width="4" height="31" fill="#008000"/>
<rect x="296" y="532" width="4" height="31" fill="#ff0000"/>
<rect x="304" y="532" width="4" height="32" fill="#ff0000"/>
<rect x="312" y="532" width="4" height="33" fill="#ff0000"/>
<rect x="320" y="532" width="4" height="33" fill="#008000"/>
<rect x="328" y="532" width="4" height="32" fill="#008000"/>
<rect x="336" y="532" width="4" height="30" fill="#008000"/>
<rect x="344" y="532" width="4" height="27" fill="#008000"/>
<rect x="352" y="532" width="4" height="24" fill="#008000"/>
<rect x="360" y="532" width="4" height="20" fill="#008000"/>
<rect x="368" y="532" width="4" height="17" fill="#008000"/>
<rect x="376" y="532" width="4" height="14" fill="#008000"/>
<rect x="384" y="532" width="4" height="13" fill="#008000"/>
<rect x="392" y="532" width="4" height="12" fill="#008000"/>
<rect x="400" y="532" width="4" height="12" fill="#008000"/>
<rect x="408" y="532" width="4" height="12" fill="#008000"/>
<rect x="416" y="532" width="4" height="12" fill="#008000"/>
<rect x="424" y="532" width="4" height="10" fill="#008000"/>
<rect x="432" y="532" width="4" height="7" fill="#008000"/>
<rect x="440" y="532" width="4" height="2" fill="#008000"/>
<rect x="448" y="529" width="4" height="3" fill="#008000"/>
<rect x="456" y="524" width="4" height="8" fill="#008000"/>
<rect x="464" y="519" width="4" height="13" fill="#008000"/>
<rect x="472" y="517" width="4" height="15" fill="#008000"/>
<rect x="480" y="514" width="4" height="18" fill="#008000"/>
<rect x="488" y="512" width="4" height="20" fill="#008000"/>
<rect x="496" y="511" width="4" height="21" fill="#008000"/>
<rect x="504" y="510" width="4" height="22" fill="#008000"/>
<rect x="512" y="509" width="4" height="23" fill="#008000"/>
<rect x="520" y="509" width="4" height="23" fill="#ff0000"/>
<rect x="528" y="510" width="4" height="22" fill="#ff0000"/>
<rect x="536" y="513" width="4" height="19" fill="#ff0000"/>
<rect x="544" y="515" width="4" height="17" fill="#ff0000"/>
<rect x="552" y="517" width="4" height="15" fill="#ff0000"/>
<rect x="560" y="518" width="4" height="14" fill="#ff0000"/>
<rect x="568" y="520" width="4" height="12" fill="#ff0000"/>
<rect x="576" y="521" width="4" height="11" fill="#ff0000"/>
<rect x="584" y="523" width="4" height="9" fill="#ff0000"/>
<rect x="592" y="525" width="4" height="7" fill="#ff0000"/>
<rect x="600" y="525" width="4" height="7" fill="#ff0000"/>
<rect x="608" y="524" width="4" height="8" fill="#008000"/>
<rect x="616" y="523" width="4" height="9" fill="#008000"/>
<rect x="624" y="519" width="4" height="13" fill="#008000"/>
<rect x="632" y="518" width="4" height="14" fill="#008000"/>
<rect x="640" y="517" width="4" height="15" fill="#008000"/>
<rect x="648" y="516" width="4" height="16" fill="#008000"/>
<rect x="656" y="516" width="4" height="16" fill="#008000"/>
<rect x="664" y="516" width="4" height="16" fill="#008000"/>
<rect x="672" y="515" width="4" height="17" fill="#008000"/>
<rect x="680" y="515" width="4" height="17" fill="#ff0000"/>
<rect x="688" y="516" width="4" height="16" fill="#ff0000"/>
<rect x="696" y="517" width="4" height="15" fill="#ff0000"/>
<rect x="704" y="517" width="4" height="15" fill="#ff0000"/>
<rect x="712" y="517" width="4" height="15" fill="#ff0000"/>
<rect x="720" y="518" width="4" height="14" fill="#ff0000"/>
<rect x="728" y="519" width="4" height="13" fill="#ff0000"/>
<rect x="736" y="519" width="4" height="13" fill="#ff0000"/>
<rect x="744" y="520" width="4" height="12" fill="#ff0000"/>
<rect x="752" y="521" width="4" height="11" fill="#ff0000"/>
<rect x="760" y="521" width="4" height="11" fill="#ff0000"/>
<rect x="768" y="520" width="4" height="12" fill="#008000"/>
<rect x="776" y="520" width="4" height="12" fill="#008000"/>
<rect x="784" y="520" width="4" height="12" fill="#ff0000"/>
<rect x="792" y="521" width="4" height="11" fill="#ff0000"/>
<rect x="800" y="522" width="4" height="10" fill="#ff0000"/>
<rect x="808" y="524" width="4" height="8" fill="#ff0000"/>
<rect x="816" y="526" width="4" height="6" fill="#ff0000"/>
<rect x="824" y="528" width="4" height="4" fill="#ff0000"/>
<rect x="832" y="531" width="4" height="1" fill="#ff0000"/>
<rect x="840" y="532" width="4" height="2" fill="#ff0000"/>
<rect x="848" y="532" width="4" height="5" fill="#ff0000"/>
<rect x="856" y="532" width="4" height="8" fill="#ff0000"/>
<rect x="864" y="532" width="4" height="9" fill="#ff0000"/>
<rect x="872" y="532" width="4" height="8" fill="#008000"/>
<rect x="880" y="532" width="4" height="11" fill="#ff0000"/>
<rect x="888" y="532" width="4" height="15" fill="#ff0000"/>
<rect x="896" y="532" width="4" height="20" fill="#ff0000"/>
<rect x="904" y="532" width="4" height="26" fill="#ff0000"/>
<rect x="912" y="532" width="4" height="30" fill="#ff0000"/>
<rect x="920" y="532" width="4" height="30" fill="#008000"/>
<rect x="928" y="532" width="4" height="27" fill="#008000"/>
<rect x="936" y="532" width="4" height="24" fill="#008000"/>
<rect x="944" y="532" width="4" height="21" fill="#008000"/>
<rect x="952" y="532" width="4" height="19" fill="#008000"/>
<rect x="960" y="532" width="4" height="18" fill="#008000"/>
<rect x="968" y="532" width="4" height="19" fill="#ff0000"/>
<rect x="976" y="532" width="4" height="20" fill="#ff0000"/>
<rect x="984" y="532" width="4" height="21" fill="#ff0000"/>
<rect x="992" y="532" width="4" height="20" fill="#008000"/>
<rect x="1000" y="532" width="4" height="18" fill="#008000"/>
<rect x="1008" y="532" width="4" height="16" fill="#008000"/>
<rect x="1016" y="532" width="4" height="13" fill="#008000"/>
<rect x="1024" y="532" width="4" height="7" fill="#008000"/>
<rect x="1032" y="531" width="4" height="1" fill="#008000"/>
<rect x="1040" y="524" width="4" height="8" fill="#008000"/>
<rect x="1048" y="516" width="4" height="16" fill="#008000"/>
<rect x="1056" y="509" width="4" height="23" fill="#008000"/>
<rect x="1064" y="502" width="4" height="30" fill="#008000"/>
<rect x="1072" y="495" width="4" height="37" fill="#008000"/>
<rect x="1080" y="491" width="4" height="41" fill="#008000"/>
<rect x="1088" y="486" width="4" height="46" fill="#008000"/>
<rect x="1096" y="484" width="4" height="48" fill="#008000"/>
</g>
<g clip-path="url(#c2)" shape-rendering="crispEdges">
<rect x="0" y="636" width="4" height="7" fill="#008000"/>
<rect x="8" y="636" width="4" height="5" fill="#008000"/>
<rect x="16" y="636" width="4" height="4" fill="#008000"/>
<rect x="24" y="636" width="4" height="1" fill="#008000"/>
<rect x="32" y="631" width="4" height="5" fill="#008000"/>
<rect x="40" y="627" width="4" height="9" fill="#008000"/>
<rect x="48" y="623" width="4" height="13" fill="#008000"/>
<rect x="56" y="620" width="4" height="16" fill="#008000"/>
<rect x="64" y="624" width="4" height="12" fill="#ff0000"/>
<rect x="72" y="628" width="4" height="8" fill="#ff0000"/>
<rect x="80" y="634" width="4" height="2" fill="#ff0000"/>
<rect x="88" y="636" width="4" height="6" fill="#ff0000"/>
<rect x="96" y="636" width="4" height="12" fill="#ff0000"/>
<rect x="104" y="636" width="4" height="13" fill="#ff0000"/>
<rect x="112" y="636" width="4" height="11" fill="#008000"/>
<rect x="120" y="636" width="4" height="8" fill="#008000"/>
<rect x="128" y="636" width="4" height="2" fill="#008000"/>
<rect x="136" y="635" width="4" height="1" fill="#008000"/>
<rect x="144" y="634" width="4" height="2" fill="#008000"/>
<rect x="152" y="633" width="4" height="3" fill="#008000"/>
<rect x="160" y="629" width="4" height="7" fill="#008000"/>
<rect x="168" y="625" width="4" height="11" fill="#008000"/>
<rect x="176" y="624" width="4" height="12" fill="#008000"/>
<rect x="184" y="626" width="4" height="10" fill="#ff0000"/>
<rect x="192" y="631" width="4" height="5" fill="#ff0000"/>
<rect x="200" y="636" width="4" height="1" fill="#ff0000"/>
<rect x="208" y="636" width="4" height="7" fill="#ff0000"/>
<rect x="216" y="636" width="4" height="15" fill="#ff0000"/>
<rect x="224" y="636" width="4" height="24" fill="#ff0000"/>
<rect x="232" y="636" width="4" height="28" fill="#ff0000"/>
<rect x="240" y="636" width="4" height="30" fill="#ff0000"/>
<rect x="248" y="636" width="4" height="29" fill="#008000"/>
<rect x="256" y="636" width="4" height="19" fill="#008000"/>
<rect x="264" y="636" width="4" height="5" fill="#008000"/>
<rect x="272" y="633" width="4" height="3" fill="#008000"/>
<rect x="280" y="631" width="4" height="5" fill="#008000"/>
<rect x="288" y="632" width="4" height="4" fill="#ff0000"/>
<rect x="296" y="635" width="4" height="1" fill="#ff0000"/>
<rect x="304" y="636" width="4" height="3" fill="#ff0000"/>
<rect x="312" y="636" width="4" height="5" fill="#ff0000"/>
<rect x="320" y="636" width="4" height="3" fill="#008000"/>
<rect x="328" y="634" width="4" height="2" fill="#008000"/>
<rect x="336" y="629" width="4" height="7" fill="#008000"/>
<rect x="344" y="624" width="4" height="12" fill="#008000"/>
<rect x="352" y="619" width="4" height="17" fill="#008000"/>
<rect x="360" y="614" width="4" height="22" fill="#008000"/>
<rect x="368" y="613" width="4" height="23" fill="#008000"/>
<rect x="376" y="615" width="4" height="21" fill="#ff0000"/>
<rect x="384" y="621" width="4" height="15" fill="#ff0000"/>
<rect x="392" y="627" width="4" height="9" fill="#ff0000"/>
<rect x="400" y="631" width="4" height="5" fill="#ff0000"/>
<rect x="408" y="634" width="4" height="2" fill="#ff0000"/>
<rect x="416" y="634" width="4" height="2" fill="#008000"/>
<rect x="424" y="630" width="4" height="6" fill="#008000"/>
<rect x="432" y="622" width="4" height="14" fill="#008000"/>
<rect x="440" y="614" width="4" height="22" fill="#008000"/>
<rect x="448" y="607" width="4" height="29" fill="#008000"/>
<rect x="456" y="603" width="4" height="33" fill="#008000"/>
<rect x="464" y="604" width="4" height="32" fill="#ff0000"/>
<rect x="472" y="610" width="4" height="26" fill="#ff0000"/>
<rect x="480" y="615" width="4" height="21" fill="#ff0000"/>
<rect x="488" y="620" width="4" height="16" fill="#ff0000"/>
<rect x="496" y="623" width="4" height="13" fill="#ff0000"/>
<rect x="504" y="626" width="4" height="10" fill="#ff0000"/>
<rect x="512" y="628" width="4" height="8" fill="#ff0000"/>
<rect x="520" y="632" width="4" height="4" fill="#ff0000"/>
<rect x="528" y="636" width="4" height="2" fill="#ff0000"/>
<rect x="536" y="636" width="4" height="9" fill="#ff0000"/>
<rect x="544" y="636" width="4" height="13" fill="#ff0000"/>
<rect x="552" y="636" width="4" height="13" fill="#ff0000"/>
<rect x="560" y="636" width="4" height="12" fill="#008000"/>
<rect x="568" y="636" width="4" height="9" fill="#008000"/>
<rect x="576" y="636" width="4" height="8" fill="#008000"/>
<rect x="584" y="636" width="4" height="11" fill="#ff0000"/>
<rect x="592" y="636" width="4" height="11" fill="#008000"/>
<rect x="600" y="636" width="4" height="8" fill="#008000"/>
<rect x="608" y="636" width="4" height="2" fill="#008000"/>
<rect x="616" y="631" width="4" height="5" fill="#008000"/>
<rect x="624" y="623" width="4" height="13" fill="#008000"/>
<rect x="632" y="624" width="4" height="12" fill="#ff0000"/>
<rect x="640" y="624" width="4" height="12" fill="#ff0000"/>
<rect x="648" y="628" width="4" height="8" fill="#ff0000"/>
<rect x="656" y="632" width="4" height="4" fill="#ff0000"/>
<rect x="664" y="634" width="4" height="2" fill="#ff0000"/>
<rect x="672" y="632" width="4" height="4" fill="#008000"/>
<rect x="680" y="634" width="4" height="2" fill="#ff0000"/>
<rect x="688" y="636" width="4" height="1" fill="#ff0000"/>
<rect x="696" y="636" width="4" height="2" fill="#ff0000"/>
<rect x="704" y="636" width="4" height="2" fill="#ff0000"/>
<rect x="712" y="636" width="4" height="2" fill="#ff0000"/>
<rect x="720" y="636" width="4" height="4" fill="#ff0000"/>
<rect x="728" y="636" width="4" height="4" fill="#ff0000"/>
<rect x="736" y="636" width="4" height="4" fill="#008000"/>
<rect x="744" y="636" width="4" height="4" fill="#008000"/>
<rect x="752" y="636" width="4" height="4" fill="#ff0000"/>
<rect x="760" y="636" width="4" height="3" fill="#008000"/>
<rect x="768" y="636" width="4" height="1" fill="#008000"/>
<rect x="776" y="634" width="4" height="2" fill="#008000"/>
<rect x="784" y="635" width="4" height="1" fill="#ff0000"/>
<rect x="792" y="636" width="4" height="1" fill="#ff0000"/>
<rect x="800" y="636" width="4" height="5" fill="#ff0000"/>
<rect x="808" y="636" width="4" height="8" fill="#ff0000"/>
<rect x="816" y="636" width="4" height="10" fill="#ff0000"/>
<rect x="824" y="636" width="4" height="12" fill="#ff0000"/>
<rect x="832" y="636" width="4" height="16" fill="#ff0000"/>
<rect x="840" y="636" width="4" height="18" fill="#ff0000"/>
<rect x="848" y="636" width="4" height="19" fill="#ff0000"/>
<rect x="856" y="636" width="4" height="20" fill="#ff0000"/>
<rect x="864" y="636" width="4" height="14" fill="#008000"/>
<rect x="872" y="636" width="4" height="7" fill="#008000"/>
<rect x="880" y="636" width="4" height="9" fill="#ff0000"/>
<rect x="888" y="636" width="4" height="17" fill="#ff0000"/>
<rect x="896" y="636" width="4" height="25" fill="#ff0000"/>
<rect x="904" y="636" width="4" height="32" fill="#ff0000"/>
<rect x="912" y="636" width="4" height="31" fill="#008000"/>
<rect x="920" y="636" width="4" height="18" fill="#008000"/>
<rect x="928" y="636" width="4" height="2" fill="#008000"/>
<rect x="936" y="625" width="4" height="11" fill="#008000"/>
<rect x="944" y="618" width="4" height="18" fill="#008000"/>
<rect x="952" y="618" width="4" height="18" fill="#ff0000"/>
<rect x="960" y="623" width="4" height="13" fill="#ff0000"/>
<rect x="968" y="631" width="4" height="5" fill="#ff0000"/>
<rect x="976" y="636" width="4" height="1" fill="#ff0000"/>
<rect x="984" y="636" width="4" height="5" fill="#ff0000"/>
<rect x="992" y="636" width="4" height="2" fill="#008000"/>
<rect x="1000" y="631" width="4" height="5" fill="#008000"/>
<rect x="1008" y="626" width="4" height="10" fill="#008000"/>
<rect x="1016" y="619" width="4" height="17" fill="#008000"/>
<rect x="1024" y="609" width="4" height="27" fill="#008000"/>
<rect x="1032" y="598" width="4" height="38" fill="#008000"/>
<rect x="1040" y="591" width="4" height="45" fill="#008000"/>
<rect x="1048" y="588" width="4" height="48" fill="#008000"/>
<rect x="1056" y="586" width="4" height="50" fill="#008000"/>
<rect x="1064" y="587" width="4" height="49" fill="#ff0000"/>
<rect x="1072" y="590" width="4" height="46" fill="#ff0000"/>
<rect x="1080" y="597" width="4" height="39" fill="#ff0000"/>
<rect x="1088" y="602" width="4" height="34" fill="#ff0000"/>
<rect x="1096" y="610" width="4" height="26" fill="#ff0000"/>
</g>
<g clip-path="url(#c3)" shape-rendering="crispEdges">
<rect x="0" y="717" width="4" height="10" fill="#008000"/>
<rect x="0" y="727" width="4" height="11" fill="#ff0000"/>
<rect x="8" y="715" width="4" height="12" fill="#008000"/>
<rect x="8" y="727" width="4" height="11" fill="#008000"/>
<rect x="16" y="714" width="4" height="13" fill="#008000"/>
<rect x="16" y="727" width="4" height="14" fill="#008000"/>
<rect x="24" y="713" width="4" height="14" fill="#008000"/>
<rect x="24" y="727" width="4" height="15" fill="#008000"/>
<rect x="32" y="712" width="4" height="15" fill="#008000"/>
<rect x="32" y="727" width="4" height="14" fill="#ff0000"/>
<rect x="40" y="711" width="4" height="16" fill="#008000"/>
<rect x="40" y="727" width="4" height="12" fill="#ff0000"/>
<rect x="48" y="710" width="4" height="17" fill="#008000"/>
<rect x="48" y="727" width="4" height="9" fill="#ff0000"/>
<rect x="56" y="711" width="4" height="16" fill="#ff0000"/>
<rect x="56" y="727" width="4" height="6" fill="#ff0000"/>
<rect x="64" y="713" width="4" height="14" fill="#ff0000"/>
<rect x="64" y="727" width="4" height="5" fill="#ff0000"/>
<rect x="72" y="715" width="4" height="12" fill="#ff0000"/>
<rect x="72" y="727" width="4" height="3" fill="#ff0000"/>
<rect x="80" y="716" width="4" height="11" fill="#ff0000"/>
<rect x="80" y="727" width="4" height="1" fill="#ff0000"/>
<rect x="88" y="718" width="4" height="9" fill="#ff0000"/>
<rect x="88" y="727" width="4" height="1" fill="#008000"/>
<rect x="96" y="720" width="4" height="7" fill="#ff0000"/>
<rect x="96" y="727" width="4" height="4" fill="#008000"/>
<rect x="104" y="720" width="4" height="7" fill="#ff0000"/>
<rect x="104" y="727" width="4" height="7" fill="#008000"/>
<rect x="112" y="719" width="4" height="8" fill="#008000"/>
<rect x="112" y="727" width="4" height="11" fill="#008000"/>
<rect x="120" y="716" width="4" height="11" fill="#008000"/>
<rect x="120" y="727" width="4" height="12" fill="#008000"/>
<rect x="128" y="713" width="4" height="14" fill="#008000"/>
<rect x="128" y="727" width="4" height="11" fill="#ff0000"/>
<rect x="136" y="711" width="4" height="16" fill="#008000"/>
<rect x="136" y="727" width="4" height="11" fill="#ff0000"/>
<rect x="144" y="711" width="4" height="16" fill="#008000"/>
<rect x="144" y="727" width="4" height="12" fill="#008000"/>
<rect x="152" y="711" width="4" height="16" fill="#ff0000"/>
<rect x="152" y="727" width="4" height="12" fill="#ff0000"/>
<rect x="160" y="711" width="4" height="16" fill="#008000"/>
<rect x="160" y="727" width="4" height="12" fill="#008000"/>
<rect x="168" y="711" width="4" height="16" fill="#008000"/>
<rect x="168" y="727" width="4" height="11" fill="#ff0000"/>
<rect x="176" y="710" width="4" height="17" fill="#008000"/>
<rect x="176" y="727" width="4" height="9" fill="#ff0000"/>
<rect x="184" y="711" width="4" height="16" fill="#ff0000"/>
<rect x="184" y="727" width="4" height="6" fill="#ff0000"/>
<rect x="192" y="712" width="4" height="15" fill="#ff0000"/>
<rect x="192" y="727" width="4" height="3" fill="#ff0000"/>
<rect x="200" y="714" width="4" height="13" fill="#ff0000"/>
<rect x="200" y="727" width="4" height="3" fill="#ff0000"/>
<rect x="208" y="716" width="4" height="11" fill="#ff0000"/>
<rect x="208" y="727" width="4" height="5" fill="#008000"/>
<rect x="216" y="717" width="4" height="10" fill="#ff0000"/>
<rect x="216" y="727" width="4" height="7" fill="#008000"/>
<rect x="224" y="717" width="4" height="10" fill="#008000"/>
<rect x="224" y="727" width="4" height="9" fill="#008000"/>
<rect x="232" y="715" width="4" height="12" fill="#008000"/>
<rect x="232" y="727" width="4" height="10" fill="#008000"/>
<rect x="240" y="714" width="4" height="13" fill="#008000"/>
<rect x="240" y="727" width="4" height="16" fill="#008000"/>
<rect x="248" y="712" width="4" height="15" fill="#008000"/>
<rect x="248" y="727" width="4" height="25" fill="#008000"/>
<rect x="256" y="708" width="4" height="19" fill="#008000"/>
<rect x="256" y="727" width="4" height="28" fill="#008000"/>
<rect x="264" y="702" width="4" height="25" fill="#008000"/>
<rect x="264" y="727" width="4" height="28" fill="#008000"/>
<rect x="272" y="697" width="4" height="30" fill="#008000"/>
<rect x="272" y="727" width="4" height="29" fill="#008000"/>
<rect x="280" y="695" width="4" height="32" fill="#008000"/>
<rect x="280" y="727" width="4" height="26" fill="#ff0000"/>
<rect x="288" y="694" width="4" height="33" fill="#008000"/>
<rect x="288" y="727" width="4" height="21" fill="#ff0000"/>
<rect x="296" y="695" width="4" height="32" fill="#ff0000"/>
<rect x="296" y="727" width="4" height="19" fill="#ff0000"/>
<rect x="304" y="697" width="4" height="30" fill="#ff0000"/>
<rect x="304" y="727" width="4" height="23" fill="#008000"/>
<rect x="312" y="699" width="4" height="28" fill="#ff0000"/>
<rect x="312" y="727" width="4" height="25" fill="#008000"/>
<rect x="320" y="697" width="4" height="30" fill="#008000"/>
<rect x="320" y="727" width="4" height="24" fill="#ff0000"/>
<rect x="328" y="695" width="4" height="32" fill="#008000"/>
<rect x="328" y="727" width="4" height="22" fill="#ff0000"/>
<rect x="336" y="694" width="4" height="33" fill="#008000"/>
<rect x="336" y="727" width="4" height="22" fill="#008000"/>
<rect x="344" y="695" width="4" height="32" fill="#ff0000"/>
<rect x="344" y="727" width="4" height="23" fill="#008000"/>
<rect x="352" y="695" width="4" height="32" fill="#ff0000"/>
<rect x="352" y="727" width="4" height="21" fill="#ff0000"/>
<rect x="360" y="694" width="4" height="33" fill="#008000"/>
<rect x="360" y="727" width="4" height="17" fill="#ff0000"/>
<rect x="368" y="695" width="4" height="32" fill="#ff0000"/>
<rect x="368" y="727" width="4" height="12" fill="#ff0000"/>
<rect x="376" y="697" width="4" height="30" fill="#ff0000"/>
<rect x="376" y="727" width="4" height="8" fill="#ff0000"/>
<rect x="384" y="701" width="4" height="26" fill="#ff0000"/>
<rect x="384" y="727" width="4" height="6" fill="#ff0000"/>
<rect x="392" y="705" width="4" height="22" fill="#ff0000"/>
<rect x="392" y="727" width="4" height="5" fill="#ff0000"/>
<rect x="400" y="707" width="4" height="20" fill="#ff0000"/>
<rect x="400" y="727" width="4" height="4" fill="#ff0000"/>
<rect x="408" y="709" width="4" height="18" fill="#ff0000"/>
<rect x="408" y="727" width="4" height="4" fill="#008000"/>
<rect x="416" y="710" width="4" height="17" fill="#ff0000"/>
<rect x="416" y="727" width="4" height="4" fill="#008000"/>
<rect x="424" y="711" width="4" height="16" fill="#ff0000"/>
<rect x="424" y="727" width="4" height="6" fill="#008000"/>
<rect x="432" y="711" width="4" height="16" fill="#ff0000"/>
<rect x="432" y="727" width="4" height="6" fill="#008000"/>
<rect x="440" y="711" width="4" height="16" fill="#008000"/>
<rect x="440" y="727" width="4" height="4" fill="#ff0000"/>
<rect x="448" y="711" width="4" height="16" fill="#ff0000"/>
<rect x="448" y="727" width="4" height="1" fill="#ff0000"/>
<rect x="456" y="712" width="4" height="15" fill="#ff0000"/>
<rect x="456" y="727" width="4" height="3" fill="#008000"/>
<rect x="464" y="715" width="4" height="12" fill="#ff0000"/>
<rect x="464" y="727" width="4" height="7" fill="#008000"/>
<rect x="472" y="719" width="4" height="8" fill="#ff0000"/>
<rect x="472" y="727" width="4" height="10" fill="#008000"/>
<rect x="480" y="723" width="4" height="4" fill="#ff0000"/>
<rect x="480" y="727" width="4" height="13" fill="#008000"/>
<rect x="488" y="726" width="4" height="1" fill="#ff0000"/>
<rect x="488" y="727" width="4" height="15" fill="#008000"/>
<rect x="496" y="723" width="4" height="4" fill="#008000"/>
<rect x="496" y="727" width="4" height="14" fill="#ff0000"/>
<rect x="504" y="720" width="4" height="7" fill="#008000"/>
<rect x="504" y="727" width="4" height="14" fill="#008000"/>
<rect x="512" y="719" width="4" height="8" fill="#008000"/>
<rect x="512" y="727" width="4" height="16" fill="#008000"/>
<rect x="520" y="718" width="4" height="9" fill="#008000"/>
<rect x="520" y="727" width="4" height="19" fill="#008000"/>
<rect x="528" y="716" width="4" height="11" fill="#008000"/>
<rect x="528" y="727" width="4" height="18" fill="#ff0000"/>
<rect x="536" y="713" width="4" height="14" fill="#008000"/>
<rect x="536" y="727" width="4" height="15" fill="#ff0000"/>
<rect x="544" y="711" width="4" height="16" fill="#008000"/>
<rect x="544" y="727" width="4" height="13" fill="#ff0000"/>
<rect x="552" y="712" width="4" height="15" fill="#ff0000"/>
<rect x="552" y="727" width="4" height="11" fill="#ff0000"/>
<rect x="560" y="713" width="4" height="14" fill="#ff0000"/>
<rect x="560" y="727" width="4" height="8" fill="#ff0000"/>
<rect x="568" y="715" width="4" height="12" fill="#ff0000"/>
<rect x="568" y="727" width="4" height="5" fill="#ff0000"/>
<rect x="576" y="716" width="4" height="11" fill="#ff0000"/>
<rect x="576" y="727" width="4" height="5" fill="#ff0000"/>
<rect x="584" y="718" width="4" height="9" fill="#ff0000"/>
<rect x="584" y="727" width="4" height="5" fill="#008000"/>
<rect x="592" y="719" width="4" height="8" fill="#ff0000"/>
<rect x="592" y="727" width="4" height="4" fill="#ff0000"/>
<rect x="600" y="719" width="4" height="8" fill="#ff0000"/>
<rect x="600" y="727" width="4" height="2" fill="#ff0000"/>
<rect x="608" y="719" width="4" height="8" fill="#008000"/>
<rect x="608" y="727" width="4" height="2" fill="#ff0000"/>
<rect x="616" y="720" width="4" height="7" fill="#ff0000"/>
<rect x="616" y="727" width="4" height="1" fill="#ff0000"/>
<rect x="624" y="723" width="4" height="4" fill="#ff0000"/>
<rect x="624" y="727" width="4" height="3" fill="#008000"/>
<rect x="632" y="724" width="4" height="3" fill="#ff0000"/>
<rect x="632" y="727" width="4" height="7" fill="#008000"/>
<rect x="640" y="723" width="4" height="4" fill="#008000"/>
<rect x="640" y="727" width="4" height="9" fill="#008000"/>
<rect x="648" y="718" width="4" height="9" fill="#008000"/>
<rect x="648" y="727" width="4" height="9" fill="#ff0000"/>
<rect x="656" y="716" width="4" height="11" fill="#008000"/>
<rect x="656" y="727" width="4" height="7" fill="#ff0000"/>
<rect x="664" y="715" width="4" height="12" fill="#008000"/>
<rect x="664" y="727" width="4" height="10" fill="#008000"/>
<rect x="672" y="716" width="4" height="11" fill="#ff0000"/>
<rect x="672" y="727" width="4" height="13" fill="#008000"/>
<rect x="680" y="714" width="4" height="13" fill="#008000"/>
<rect x="680" y="727" width="4" height="13" fill="#ff0000"/>
<rect x="688" y="713" width="4" height="14" fill="#008000"/>
<rect x="688" y="727" width="4" height="11" fill="#ff0000"/>
<rect x="696" y="711" width="4" height="16" fill="#008000"/>
<rect x="696" y="727" width="4" height="11" fill="#008000"/>
<rect x="704" y="712" width="4" height="15" fill="#ff0000"/>
<rect x="704" y="727" width="4" height="13" fill="#008000"/>
<rect x="712" y="712" width="4" height="15" fill="#008000"/>
<rect x="712" y="727" width="4" height="13" fill="#008000"/>
<rect x="720" y="711" width="4" height="16" fill="#008000"/>
<rect x="720" y="727" width="4" height="12" fill="#ff0000"/>
<rect x="728" y="710" width="4" height="17" fill="#008000"/>
<rect x="728" y="727" width="4" height="10" fill="#ff0000"/>
<rect x="736" y="710" width="4" height="17" fill="#ff0000"/>
<rect x="736" y="727" width="4" height="10" fill="#ff0000"/>
<rect x="744" y="711" width="4" height="16" fill="#ff0000"/>
<rect x="744" y="727" width="4" height="9" fill="#ff0000"/>
<rect x="752" y="712" width="4" height="15" fill="#ff0000"/>
<rect x="752" y="727" width="4" height="8" fill="#ff0000"/>
<rect x="760" y="712" width="4" height="15" fill="#ff0000"/>
<rect x="760" y="727" width="4" height="7" fill="#ff0000"/>
<rect x="768" y="712" width="4" height="15" fill="#ff0000"/>
<rect x="768" y="727" width="4" height="6" fill="#ff0000"/>
<rect x="776" y="713" width="4" height="14" fill="#ff0000"/>
<rect x="776" y="727" width="4" height="5" fill="#ff0000"/>
<rect x="784" y="714" width="4" height="13" fill="#ff0000"/>
<rect x="784" y="727" width="4" height="6" fill="#008000"/>
<rect x="792" y="715" width="4" height="12" fill="#ff0000"/>
<rect x="792" y="727" width="4" height="7" fill="#008000"/>
<rect x="800" y="715" width="4" height="12" fill="#008000"/>
<rect x="800" y="727" width="4" height="8" fill="#008000"/>
<rect x="808" y="714" width="4" height="13" fill="#008000"/>
<rect x="808" y="727" width="4" height="6" fill="#ff0000"/>
<rect x="816" y="714" width="4" height="13" fill="#008000"/>
<rect x="816" y="727" width="4" height="3" fill="#ff0000"/>
<rect x="824" y="715" width="4" height="12" fill="#ff0000"/>
<rect x="824" y="727" width="4" height="1" fill="#ff0000"/>
<rect x="832" y="717" width="4" height="10" fill="#ff0000"/>
<rect x="832" y="727" width="4" height="1" fill="#008000"/>
<rect x="840" y="719" width="4" height="8" fill="#ff0000"/>
<rect x="840" y="727" width="4" height="2" fill="#008000"/>
<rect x="848" y="720" width="4" height="7" fill="#ff0000"/>
<rect x="848" y="727" width="4" height="1" fill="#ff0000"/>
<rect x="856" y="719" width="4" height="8" fill="#008000"/>
<rect x="856" y="727" width="4" height="8" fill="#008000"/>
<rect x="864" y="722" width="4" height="5" fill="#ff0000"/>
<rect x="864" y="727" width="4" height="11" fill="#008000"/>
<rect x="872" y="726" width="4" height="1" fill="#ff0000"/>
<rect x="872" y="727" width="4" height="9" fill="#ff0000"/>
<rect x="880" y="723" width="4" height="4" fill="#008000"/>
<rect x="880" y="727" width="4" height="7" fill="#ff0000"/>
<rect x="888" y="722" width="4" height="5" fill="#008000"/>
<rect x="888" y="727" width="4" height="6" fill="#ff0000"/>
<rect x="896" y="723" width="4" height="4" fill="#ff0000"/>
<rect x="896" y="727" width="4" height="7" fill="#008000"/>
<rect x="904" y="724" width="4" height="3" fill="#ff0000"/>
<rect x="904" y="727" width="4" height="15" fill="#008000"/>
<rect x="912" y="722" width="4" height="5" fill="#008000"/>
<rect x="912" y="727" width="4" height="22" fill="#008000"/>
<rect x="920" y="718" width="4" height="9" fill="#008000"/>
<rect x="920" y="727" width="4" height="25" fill="#008000"/>
<rect x="928" y="711" width="4" height="16" fill="#008000"/>
<rect x="928" y="727" width="4" height="26" fill="#008000"/>
<rect x="936" y="706" width="4" height="21" fill="#008000"/>
<rect x="936" y="727" width="4" height="24" fill="#ff0000"/>
<rect x="944" y="703" width="4" height="24" fill="#008000"/>
<rect x="944" y="727" width="4" height="20" fill="#ff0000"/>
<rect x="952" y="703" width="4" height="24" fill="#008000"/>
<rect x="952" y="727" width="4" height="15" fill="#ff0000"/>
<rect x="960" y="704" width="4" height="23" fill="#ff0000"/>
<rect x="960" y="727" width="4" height="11" fill="#ff0000"/>
<rect x="968" y="707" width="4" height="20" fill="#ff0000"/>
<rect x="968" y="727" width="4" height="10" fill="#ff0000"/>
<rect x="976" y="710" width="4" height="17" fill="#ff0000"/>
<rect x="976" y="727" width="4" height="11" fill="#008000"/>
<rect x="984" y="712" width="4" height="15" fill="#ff0000"/>
<rect x="984" y="727" width="4" height="12" fill="#008000"/>
<rect x="992" y="711" width="4" height="16" fill="#008000"/>
<rect x="992" y="727" width="4" height="12" fill="#ff0000"/>
<rect x="1000" y="710" width="4" height="17" fill="#008000"/>
<rect x="1000" y="727" width="4" height="12" fill="#008000"/>
<rect x="1008" y="709" width="4" height="18" fill="#008000"/>
<rect x="1008" y="727" width="4" height="13" fill="#008000"/>
<rect x="1016" y="709" width="4" height="18" fill="#008000"/>
<rect x="1016" y="727" width="4" height="10" fill="#ff0000"/>
<rect x="1024" y="708" width="4" height="19" fill="#008000"/>
<rect x="1024" y="727" width="4" height="6" fill="#ff0000"/>
<rect x="1032" y="710" width="4" height="17" fill="#ff0000"/>
<rect x="1032" y="727" width="4" height="3" fill="#ff0000"/>
<rect x="1040" y="712" width="4" height="15" fill="#ff0000"/>
<rect x="1040" y="727" width="4" height="1" fill="#ff0000"/>
<rect x="1048" y="715" width="4" height="12" fill="#ff0000"/>
<rect x="1048" y="727" width="4" height="6" fill="#008000"/>
<rect x="1056" y="718" width="4" height="9" fill="#ff0000"/>
<rect x="1056" y="727" width="4" height="17" fill="#008000"/>
<rect x="1064" y="723" width="4" height="4" fill="#ff0000"/>
<rect x="1064" y="727" width="4" height="24" fill="#008000"/>
<rect x="1072" y="722" width="4" height="5" fill="#008000"/>
<rect x="1072" y="727" width="4" height="25" fill="#008000"/>
<rect x="1080" y="714" width="4" height="13" fill="#008000"/>
<rect x="1080" y="727" width="4" height="29" fill="#008000"/>
<rect x="1088" y="710" width="4" height="17" fill="#008000"/>
<rect x="1088" y="727" width="4" height="34" fill="#008000"/>
<rect x="1096" y="706" width="4" height="21" fill="#008000"/>
<rect x="1096" y="727" width="4" height="42" fill="#008000"/>
<rect x="1104" y="701" width="4" height="26" fill="#008000"/>
<rect x="1104" y="727" width="4" height="43" fill="#008000"/>
<rect x="1112" y="693" width="4" height="34" fill="#008000"/>
<rect x="1112" y="727" width="4" height="39" fill="#ff0000"/>
<rect x="1120" y="689" width="4" height="38" fill="#008000"/>
<rect x="1120" y="727" width="4" height="37" fill="#ff0000"/>
<rect x="1128" y="688" width="4" height="39" fill="#008000"/>
<rect x="1136" y="689" width="4" height="38" fill="#ff0000"/>
</g>
<g shape-rendering="crispEdges" fill="#000">
<rect x="2" y="2" width="1226" height="1" fill="#000"/>
<rect x="2" y="473" width="1226" height="1" fill="#000"/>
<rect x="2" y="2" width="1" height="472" fill="#000"/>
<rect x="1227" y="2" width="1" height="472" fill="#000"/>
<rect x="2" y="475" width="1226" height="1" fill="#000"/>
<rect x="2" y="575" width="1226" height="1" fill="#000"/>
<rect x="2" y="475" width="1" height="101" fill="#000"/>
<rect x="1227" y="475" width="1" height="101" fill="#000"/>
<rect x="2" y="577" width="1226" height="1" fill="#000"/>
<rect x="2" y="677" width="1226" height="1" fill="#000"/>
<rect x="2" y="577" width="1" height="101" fill="#000"/>
<rect x="1227" y="577" width="1" height="101" fill="#000"/>
<rect x="2" y="679" width="1226" height="1" fill="#000"/>
<rect x="2" y="779" width="1226" height="1" fill="#000"/>
<rect x="2" y="679" width="1" height="101" fill="#000"/>
<rect x="1227" y="679" width="1" height="101" fill="#000"/>
<rect x="1228" y="16" width="4" height="1" fill="#000"/>
<rect x="1228" y="49" width="4" height="1" fill="#000"/>
<rect x="1228" y="114" width="4" height="1" fill="#000"/>
<rect x="1228" y="147" width="4" height="1" fill="#000"/>
<rect x="1228" y="180" width="4" height="1" fill="#000"/>
<rect x="1228" y="212" width="4" height="1" fill="#000"/>
<rect x="1228" y="245" width="4" height="1" fill="#000"/>
<rect x="1228" y="277" width="4" height="1" fill="#000"/>
<rect x="1228" y="310" width="4" height="1" fill="#000"/>
<rect x="1228" y="343" width="4" height="1" fill="#000"/>
<rect x="1228" y="375" width="4" height="1" fill="#000"/>
<rect x="1228" y="408" width="4" height="1" fill="#000"/>
<rect x="1228" y="440" width="4" height="1" fill="#000"/>
<rect x="1228" y="82" width="2" height="1" fill="#000"/>
<rect x="1228" y="476" width="4" height="1" fill="#000"/>
<rect x="1228" y="574" width="4" height="1" fill="#000"/>
<rect x="1228" y="578" width="4" height="1" fill="#000"/>
<rect x="1228" y="676" width="4" height="1" fill="#000"/>
<rect x="1228" y="680" width="4" height="1" fill="#000"/>
<rect x="1228" y="778" width="4" height="1" fill="#000"/>
<rect x="2" y="780" width="1" height="4" fill="#000"/>
<rect x="66" y="780" width="1" height="4" fill="#000"/>
<rect x="130" y="780" width="1" height="4" fill="#000"/>
<rect x="194" y="780" width="1" height="4" fill="#000"/>
<rect x="258" y="780" width="1" height="4" fill="#000"/>
<rect x="322" y="780" width="1" height="4" fill="#000"/>
<rect x="386" y="780" width="1" height="4" fill="#000"/>
<rect x="450" y="780" width="1" height="4" fill="#000"/>
<rect x="514" y="780" width="1" height="4" fill="#000"/>
<rect x="578" y="780" width="1" height="4" fill="#000"/>
<rect x="642" y="780" width="1" height="4" fill="#000"/>
<rect x="706" y="780" width="1" height="4" fill="#000"/>
<rect x="770" y="780" width="1" height="4" fill="#000"/>
<rect x="834" y="780" width="1" height="4" fill="#000"/>
<rect x="898" y="780" width="1" height="4" fill="#000"/>
<rect x="962" y="780" width="1" height="4" fill="#000"/>
<rect x="1026" y="780" width="1" height="4" fill="#000"/>
<rect x="1090" y="780" width="1" height="4" fill="#000"/>
<rect x="1230" y="77" width="39" height="11" fill="#c80000"/>
</g>
<text transform="translate(1233,20) scale(1,1.1)">1.34660</text>
<text transform="translate(1233,53) scale(1,1.1)">1.34480</text>
<text transform="translate(1233,118) scale(1,1.1)">1.34120</text>
<text transform="translate(1233,151) scale(1,1.1)">1.33940</text>
<text transform="translate(1233,184) scale(1,1.1)">1.33760</text>
<text transform="translate(1233,216) scale(1,1.1)">1.33580</text>
<text transform="translate(1233,249) scale(1,1.1)">1.33400</text>
<text transform="translate(1233,281) scale(1,1.1)">1.33220</text>
<text transform="translate(1233,314) scale(1,1.1)">1.33040</text>
<text transform="translate(1233,347) scale(1,1.1)">1.32860</text>
<text transform="translate(1233,379) scale(1,1.1)">1.32680</text>
<text transform="translate(1233,412) scale(1,1.1)">1.32500</text>
<text transform="translate(1233,444) scale(1,1.1)">1.32320</text>
<text transform="translate(1233,86) scale(1,1.1)" style="fill:#fff;stroke:#fff">1.34299</text>
<text transform="translate(1233,484) scale(1,1.1)">0.012944</text>
<text transform="translate(1233,573) scale(1,1.1)">-0.009934</text>
<text transform="translate(1233,586) scale(1,1.1)">0.0040760</text>
<text transform="translate(1233,675) scale(1,1.1)">-0.0028638</text>
<text transform="translate(1233,688) scale(1,1.1)">0.005423</text>
<text transform="translate(1233,777) scale(1,1.1)">-0.005962</text>
<text transform="translate(6,488) scale(1,1.1)" textLength="71" lengthAdjust="spacingAndGlyphs">AOcust 0.010959</text>
<text transform="translate(6,590) scale(1,1.1)" textLength="75" lengthAdjust="spacingAndGlyphs">ACcust 0.0017706</text>
<text transform="translate(6,692) scale(1,1.1)" textLength="126" lengthAdjust="spacingAndGlyphs">GatorCust 0.004302 -0.004199</text>
<text transform="translate(3,792) scale(1,1.1)">12 Mar 2026</text>
<text transform="translate(67,792) scale(1,1.1)">12 Mar 14:00</text>
<text transform="translate(131,792) scale(1,1.1)">12 Mar 22:00</text>
<text transform="translate(195,792) scale(1,1.1)">13 Mar 06:00</text>
<text transform="translate(259,792) scale(1,1.1)">13 Mar 14:00</text>
<text transform="translate(323,792) scale(1,1.1)">13 Mar 22:00</text>
<text transform="translate(387,792) scale(1,1.1)">16 Mar 07:00</text>
<text transform="translate(451,792) scale(1,1.1)">16 Mar 15:00</text>
<text transform="translate(515,792) scale(1,1.1)">16 Mar 23:00</text>
<text transform="translate(579,792) scale(1,1.1)">17 Mar 07:00</text>
<text transform="translate(643,792) scale(1,1.1)">17 Mar 15:00</text>
<text transform="translate(707,792) scale(1,1.1)">17 Mar 23:00</text>
<text transform="translate(771,792) scale(1,1.1)">18 Mar 07:00</text>
<text transform="translate(835,792) scale(1,1.1)">18 Mar 15:00</text>
<text transform="translate(899,792) scale(1,1.1)">18 Mar 23:00</text>
<text transform="translate(963,792) scale(1,1.1)">19 Mar 07:00</text>
<text transform="translate(1027,792) scale(1,1.1)">19 Mar 15:00</text>
<text transform="translate(1091,792) scale(1,1.1)">19 Mar 23:00</text>
</svg></body></html>
